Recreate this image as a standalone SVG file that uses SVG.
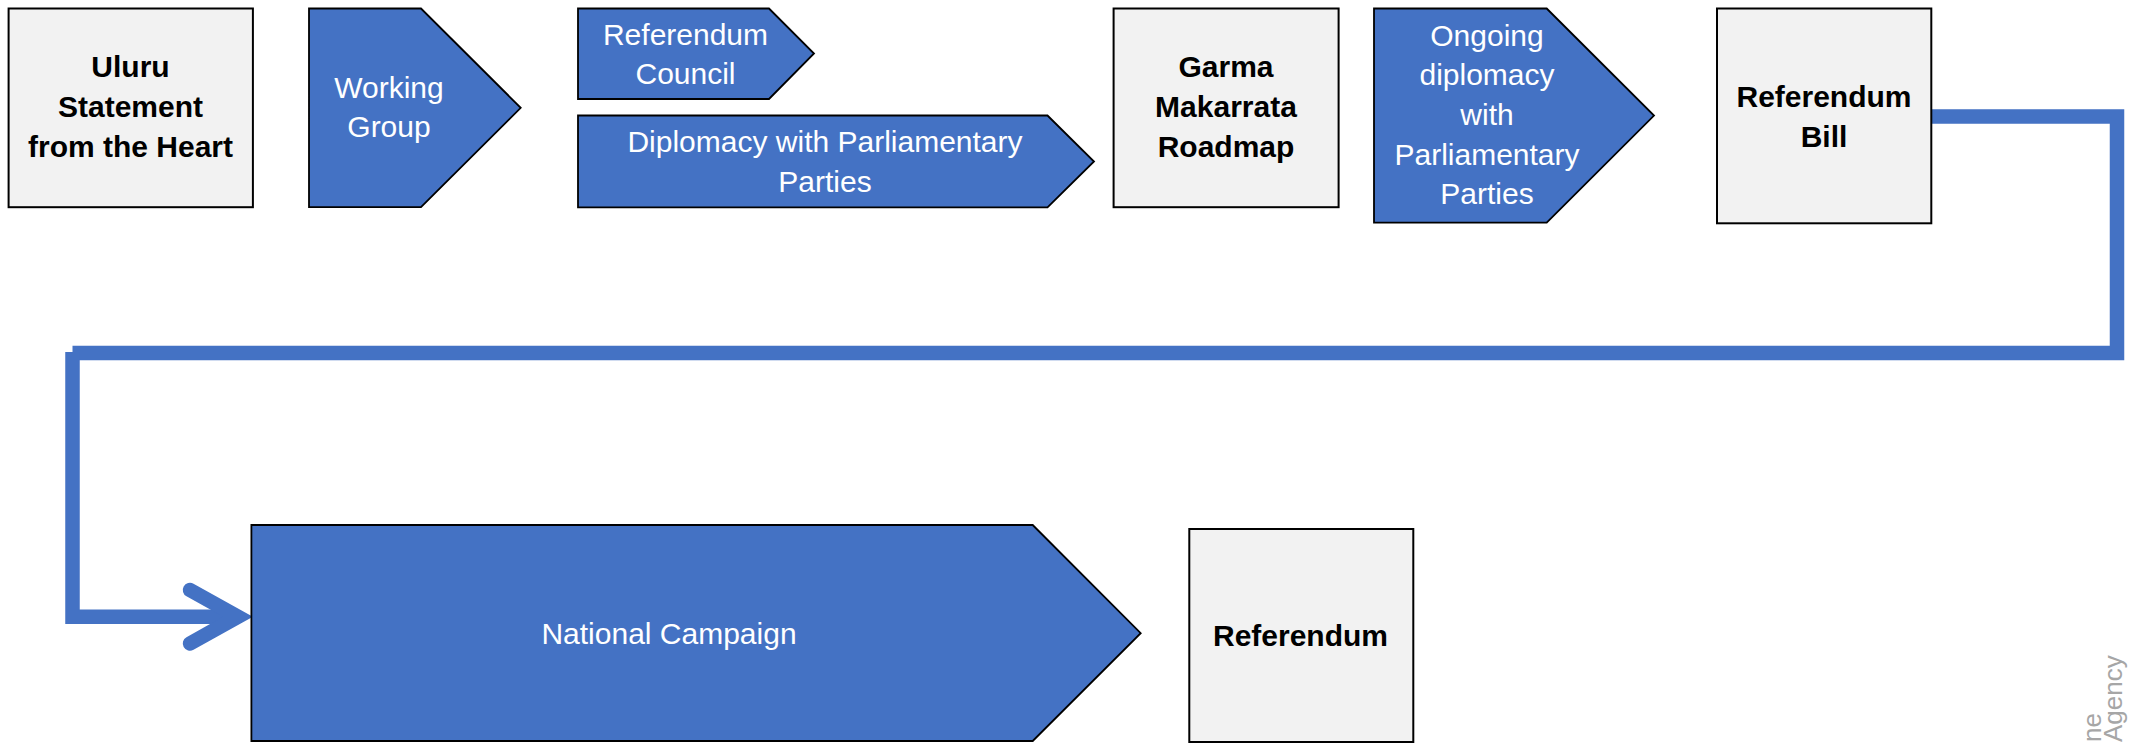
<svg xmlns="http://www.w3.org/2000/svg" width="2129" height="743" viewBox="0 0 2129 743">
  <style>
    .box { fill: #F2F2F2; stroke: #000000; stroke-width: 2; }
    .chev { fill: #4472C4; stroke: #000000; stroke-width: 1.8; stroke-linejoin: miter; }
    .bt { font-family: "Liberation Sans", Arial, sans-serif; font-weight: bold; font-size: 30px; fill: #000000; text-anchor: middle; }
    .wt { font-family: "Liberation Sans", Arial, sans-serif; font-size: 30px; fill: #FFFFFF; text-anchor: middle; }
    .conn { fill: none; stroke: #4472C4; stroke-width: 14.5; stroke-linejoin: miter; stroke-linecap: butt; }
    .head { fill: none; stroke: #4472C4; stroke-width: 14.5; stroke-linejoin: miter; stroke-linecap: round; }
    .wm { font-family: "Liberation Sans", Arial, sans-serif; font-size: 26px; fill: #A6A6A6; }
  </style>
  <rect width="2129" height="743" fill="#FFFFFF"/>

  <g id="connectors">
    <path class="conn" d="M1931,116.5 H2117 V353 H72.5"/>
    <path class="conn" d="M72.5,352 V616.7 H238"/>
    <polyline class="head" points="190,590 238,616.7 190,643.5"/>
  </g>

  <g id="uluru">
    <rect class="box" x="8.6" y="8.5" width="244.3" height="198.7"/>
    <text class="bt" x="130.5" y="77.3">Uluru</text>
    <text class="bt" x="130.5" y="117.3">Statement</text>
    <text class="bt" x="130.5" y="157.3">from the Heart</text>
  </g>

  <g id="working-group">
    <polygon class="chev" points="309,8.5 421,8.5 520.7,107.8 421,207.2 309,207.2"/>
    <text class="wt" x="389" y="98.3">Working</text>
    <text class="wt" x="389" y="136.5">Group</text>
  </g>

  <g id="referendum-council">
    <polygon class="chev" points="578,8.5 769,8.5 814,53.5 769,99 578,99"/>
    <text class="wt" x="685.5" y="45">Referendum</text>
    <text class="wt" x="685.5" y="83.5">Council</text>
  </g>

  <g id="diplomacy">
    <polygon class="chev" points="578,115.5 1047.5,115.5 1094,161.5 1047.5,207.3 578,207.3"/>
    <text class="wt" x="825" y="151.7">Diplomacy with Parliamentary</text>
    <text class="wt" x="825" y="191.7">Parties</text>
  </g>

  <g id="garma">
    <rect class="box" x="1113.6" y="8.5" width="225" height="198.7"/>
    <text class="bt" x="1226" y="77.3">Garma</text>
    <text class="bt" x="1226" y="117.3">Makarrata</text>
    <text class="bt" x="1226" y="156.7">Roadmap</text>
  </g>

  <g id="ongoing-diplomacy">
    <polygon class="chev" points="1374,8.5 1546.7,8.5 1654,115.6 1546.7,222.7 1374,222.7"/>
    <text class="wt" x="1487" y="45.7">Ongoing</text>
    <text class="wt" x="1487" y="85">diplomacy</text>
    <text class="wt" x="1487" y="125">with</text>
    <text class="wt" x="1487" y="164.8">Parliamentary</text>
    <text class="wt" x="1487" y="204">Parties</text>
  </g>

  <g id="referendum-bill">
    <rect class="box" x="1717" y="8.5" width="214.3" height="214.8"/>
    <text class="bt" x="1824" y="106.5">Referendum</text>
    <text class="bt" x="1824" y="146.5">Bill</text>
  </g>

  <g id="national-campaign">
    <polygon class="chev" points="251.4,525 1032.7,525 1140.7,633.2 1032.7,741 251.4,741"/>
    <text class="wt" x="669" y="644">National Campaign</text>
  </g>

  <g id="referendum">
    <rect class="box" x="1189.3" y="529" width="224" height="213"/>
    <text class="bt" x="1300.5" y="645.7">Referendum</text>
  </g>

  <g id="watermark">
    <text class="wm" transform="translate(2101,742) rotate(-90)">ne</text>
    <text class="wm" transform="translate(2122,742) rotate(-90)">Agency</text>
  </g>
</svg>
